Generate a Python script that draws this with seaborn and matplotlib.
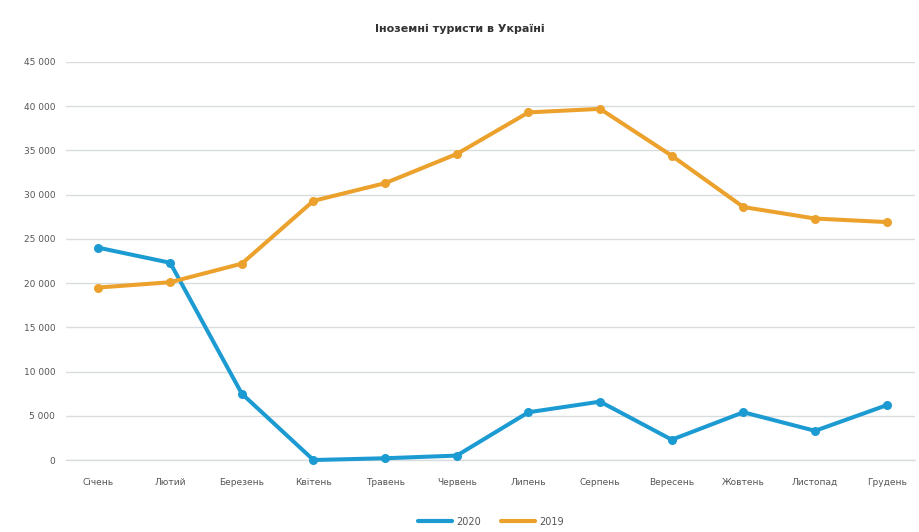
import matplotlib
matplotlib.use("Agg")
import matplotlib.pyplot as plt
import seaborn as sns
import pandas as pd
from matplotlib.ticker import FuncFormatter

months = ["Січень", "Лютий", "Березень", "Квітень", "Травень", "Червень",
          "Липень", "Серпень", "Вересень", "Жовтень", "Листопад", "Грудень"]
tourists_2020 = [24000, 22300, 7500, 0, 200, 500, 5400, 6600, 2300, 5400, 3300, 6200]
tourists_2019 = [19500, 20100, 22200, 29300, 31300, 34600, 39300, 39700, 34400, 28600, 27300, 26900]
series_names = ["2020", "2019"]
palette = {"2020": "#1c9ad2", "2019": "#eba12c"}

df = pd.DataFrame({
    "month": list(range(len(months))) * 2,
    "value": tourists_2020 + tourists_2019,
    "year": [series_names[0]] * len(months) + [series_names[1]] * len(months),
})

sns.set_theme(style="white")
plt.rcParams["font.family"] = ["DejaVu Sans"]

fig = plt.figure(figsize=(9.2, 5.32), dpi=100)
ax = fig.add_axes([0.072, 0.1353, 0.923, 0.7482])

sns.lineplot(data=df, x="month", y="value", hue="year", hue_order=series_names,
             palette=palette, marker="o", markersize=6.5, markeredgewidth=0,
             linewidth=2.9, ax=ax, legend=True)
for ln in ax.lines:
    ln.set_clip_on(False)

ax.set_xlim(-0.45, 11.4)
ax.set_ylim(0, 45000)
ax.set_yticks(range(0, 45001, 5000))
ax.yaxis.set_major_formatter(FuncFormatter(lambda v, p: f"{int(v):,}".replace(",", " ")))
ax.set_xticks(range(len(months)))
ax.set_xticklabels(months)
ax.grid(axis="y", color="#d8dcdc", linewidth=1.0)
ax.axhline(0, color="#d8dcdc", linewidth=1.0, clip_on=False, zorder=0)
ax.set_axisbelow(True)
for s in ax.spines.values():
    s.set_visible(False)
ax.tick_params(axis="both", length=0, labelsize=6.5, colors="#555555")
ax.tick_params(axis="x", pad=13)
ax.tick_params(axis="y", pad=8)
ax.set_xlabel("")
ax.set_ylabel("")

fig.text(0.5, 0.945, "Іноземні туристи в Україні", ha="center", va="center",
         fontsize=8, fontweight="bold", color="#333333")

handles, labels = ax.get_legend_handles_labels()
ax.legend(handles, labels, loc="center", bbox_to_anchor=(0.5, -0.155),
          ncol=2, frameon=False, fontsize=7, handlelength=3.5,
          columnspacing=2.0, handletextpad=0.5, labelcolor="#555555")
for h in ax.get_legend().legend_handles:
    h.set_marker("")
    h.set_linewidth(3.0)

fig.savefig("out.png", dpi=100, facecolor="white")
